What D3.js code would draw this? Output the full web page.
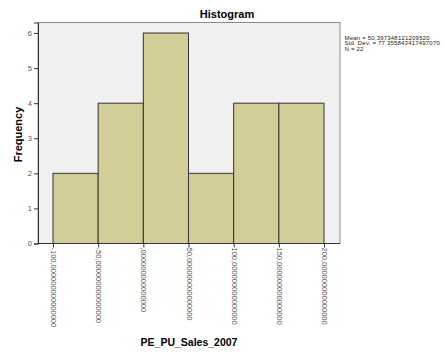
<!DOCTYPE html>
<html>
<head>
<meta charset="utf-8">
<script src="https://cdn.jsdelivr.net/npm/d3@7"></script>
<style>
body { margin: 0; background: #fff; }
text { font-family: "Liberation Sans", Arial, sans-serif; }
</style>
</head>
<body>
<script>
// bins of PE_PU_Sales_2007
var binEdges = [-100, -50, 0, 50, 100, 150, 200];
var counts = [2, 4, 6, 2, 4, 4];
var yTicks = [0, 1, 2, 3, 4, 5, 6];
var xTickLabels = ["-100,000000000000000", "-50,000000000000000", ",000000000000000",
    "50,000000000000000", "100,000000000000000", "150,000000000000000", "200,000000000000000"];
var stats = ["Mean = 50,397348121209520", "Std. Dev. = 77,355843417497070", "N = 22"];

var width = 444, height = 353;
var plotLeft = 38, plotRight = 340, plotTop = 22.5, plotBottom = 243.5;

var svg = d3.select("body").append("svg")
    .attr("width", width)
    .attr("height", height);

var x = d3.scaleLinear().domain([-116.6, 217.7]).range([plotLeft, plotRight]);
var y = d3.scaleLinear().domain([0, 6.3]).range([plotBottom, plotTop]);

// plot background
svg.append("rect")
    .attr("x", plotLeft).attr("y", plotTop)
    .attr("width", plotRight - plotLeft).attr("height", plotBottom - plotTop)
    .style("fill", "#f0f0f0")
    .style("stroke", "#8c8c8c")
    .style("stroke-width", 1);

var bins = counts.map(function(c, i) { return {x0: binEdges[i], x1: binEdges[i + 1], n: c}; });

svg.selectAll("rect.bar")
    .data(bins)
    .enter()
    .append("rect")
    .attr("class", "bar")
    .attr("x", function(d) { return x(d.x0); })
    .attr("y", function(d) { return y(d.n); })
    .attr("width", function(d) { return x(d.x1) - x(d.x0); })
    .attr("height", function(d) { return y(0) - y(d.n); })
    .style("fill", "#d3ce97")
    .style("stroke", "#333")
    .style("stroke-width", 1);

// y axis
var yAxis = svg.append("g")
    .attr("transform", "translate(" + plotLeft + ",0)")
    .call(d3.axisLeft(y).tickValues(yTicks).tickSize(4).tickPadding(2).tickFormat(d3.format("d")));
yAxis.select(".domain").style("stroke", "#333");
yAxis.selectAll(".tick line").style("stroke", "#333");
yAxis.selectAll("text").style("font-size", "7.5px").style("fill", "#555");

// x axis
var xAxis = svg.append("g")
    .attr("transform", "translate(0," + plotBottom + ")")
    .call(d3.axisBottom(x).tickValues(binEdges).tickSize(4).tickFormat(function(d, i) { return xTickLabels[i]; }));
xAxis.select(".domain").remove();
xAxis.selectAll(".tick line").style("stroke", "#333");
xAxis.selectAll("text")
    .style("font-size", "7.5px")
    .style("fill", "#555")
    .attr("text-anchor", "start")
    .attr("dy", "0.32em")
    .attr("transform", "translate(0,4) rotate(90)")
    .attr("x", 0)
    .attr("y", 0);
svg.append("line")
    .attr("x1", plotLeft).attr("x2", plotRight)
    .attr("y1", plotBottom).attr("y2", plotBottom)
    .style("stroke", "#333");

// titles
svg.append("text")
    .attr("x", 227).attr("y", 17.5)
    .attr("text-anchor", "middle")
    .style("font-size", "11px").style("font-weight", "bold")
    .text("Histogram");

svg.append("text")
    .attr("transform", "translate(21.5,134.5) rotate(-90)")
    .attr("text-anchor", "middle")
    .style("font-size", "11px").style("font-weight", "bold")
    .text("Frequency");

svg.append("text")
    .attr("x", 189).attr("y", 346)
    .attr("text-anchor", "middle")
    .style("font-size", "10.5px").style("font-weight", "bold")
    .text("PE_PU_Sales_2007");

svg.selectAll("text.stat")
    .data(stats)
    .enter()
    .append("text")
    .attr("class", "stat")
    .attr("x", 344.5)
    .attr("y", function(d, i) { return 40 + i * 5.4; })
    .style("font-size", "6px")
    .style("letter-spacing", "0.2px")
    .style("fill", "#222")
    .text(function(d) { return d; });
</script>
</body>
</html>
